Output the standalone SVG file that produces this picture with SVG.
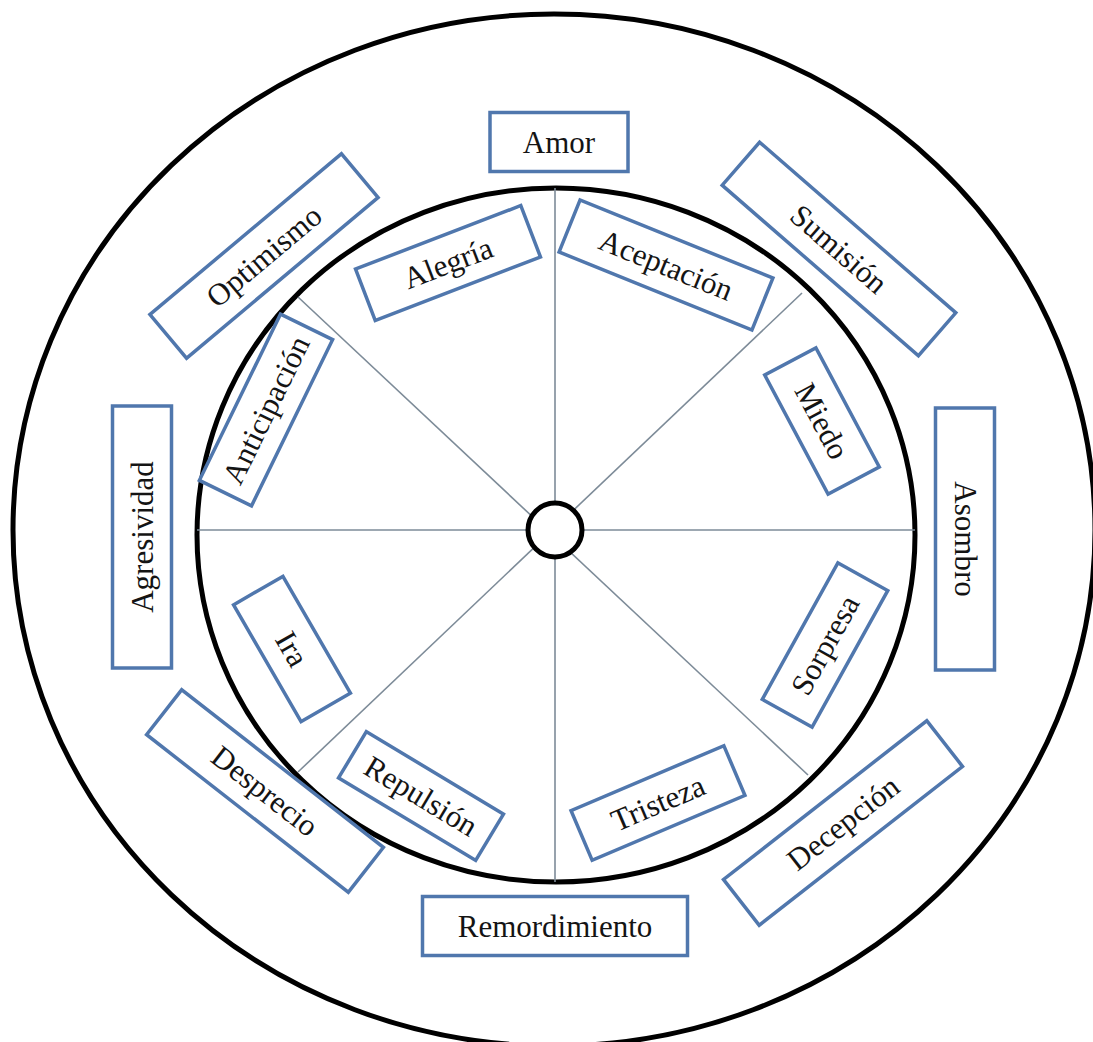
<svg xmlns="http://www.w3.org/2000/svg" width="1093" height="1042" viewBox="0 0 1093 1042">
<style>
.ring{fill:none;stroke:#000;stroke-width:5}
.spoke{stroke:#7d8b98;stroke-width:1.6}
.box{fill:#fff;stroke:#5077ad;stroke-width:3.5}
.lbl{font-family:"Liberation Serif","Times New Roman",serif;font-size:31px;fill:#141414;text-anchor:middle;dominant-baseline:central}
</style>
<rect x="0" y="0" width="1093" height="1042" fill="#fff"/>
<ellipse class="ring" cx="554" cy="530" rx="541" ry="516"/>
<ellipse class="ring" cx="556" cy="535" rx="359" ry="347"/>
<g id="connectors">
<line class="spoke" x1="555" y1="188" x2="555" y2="882"/>
<line class="spoke" x1="197" y1="530" x2="915" y2="530"/>
<line class="spoke" x1="298" y1="297" x2="808" y2="775"/>
<line class="spoke" x1="802" y1="293" x2="298" y2="772"/>
</g>
<g id="center"><circle cx="555" cy="530" r="27" fill="#fff" stroke="#000" stroke-width="5"/></g>
<g id="amor" transform="translate(559,142)"><rect class="box" x="-69" y="-29.5" width="138" height="59"/><text class="lbl">Amor</text></g>
<g id="remordimiento" transform="translate(555,926)"><rect class="box" x="-132.5" y="-29.5" width="265" height="59"/><text class="lbl">Remordimiento</text></g>
<g id="agresividad" transform="translate(142,537) rotate(-90)"><rect class="box" x="-131" y="-29.5" width="262" height="59"/><text class="lbl">Agresividad</text></g>
<g id="asombro" transform="translate(965,539) rotate(90)"><rect class="box" x="-131" y="-29.5" width="262" height="59"/><text class="lbl">Asombro</text></g>
<g id="optimismo" transform="translate(264,256) rotate(-40)"><rect class="box" x="-125" y="-28.5" width="250" height="57"/><text class="lbl">Optimismo</text></g>
<g id="sumision" transform="translate(839,249) rotate(41)"><rect class="box" x="-130" y="-28.5" width="260" height="57"/><text class="lbl">Sumisión</text></g>
<g id="decepcion" transform="translate(843,823) rotate(-38)"><rect class="box" x="-129" y="-29" width="258" height="58"/><text class="lbl">Decepción</text></g>
<g id="desprecio" transform="translate(265,791) rotate(38)"><rect class="box" x="-128" y="-28.5" width="256" height="57"/><text class="lbl">Desprecio</text></g>
<g id="alegria" transform="translate(448,263) rotate(-21)"><rect class="box" x="-88.5" y="-27.5" width="177" height="55"/><text class="lbl">Alegría</text></g>
<g id="aceptacion" transform="translate(666,265) rotate(22)"><rect class="box" x="-104" y="-28" width="208" height="56"/><text class="lbl">Aceptación</text></g>
<g id="anticipacion" transform="translate(266,410) rotate(-64)"><rect class="box" x="-92.5" y="-29" width="185" height="58"/><text class="lbl">Anticipación</text></g>
<g id="miedo" transform="translate(822,421) rotate(62)"><rect class="box" x="-67.5" y="-29" width="135" height="58"/><text class="lbl">Miedo</text></g>
<g id="ira" transform="translate(292,649) rotate(60)"><rect class="box" x="-67.5" y="-28.5" width="135" height="57"/><text class="lbl">Ira</text></g>
<g id="sorpresa" transform="translate(825,645) rotate(-61)"><rect class="box" x="-78" y="-28.5" width="156" height="57"/><text class="lbl">Sorpresa</text></g>
<g id="repulsion" transform="translate(421,796) rotate(31)"><rect class="box" x="-80" y="-27" width="160" height="54"/><text class="lbl">Repulsión</text></g>
<g id="tristeza" transform="translate(658,803) rotate(-23)"><rect class="box" x="-83" y="-27" width="166" height="54"/><text class="lbl">Tristeza</text></g>
</svg>
